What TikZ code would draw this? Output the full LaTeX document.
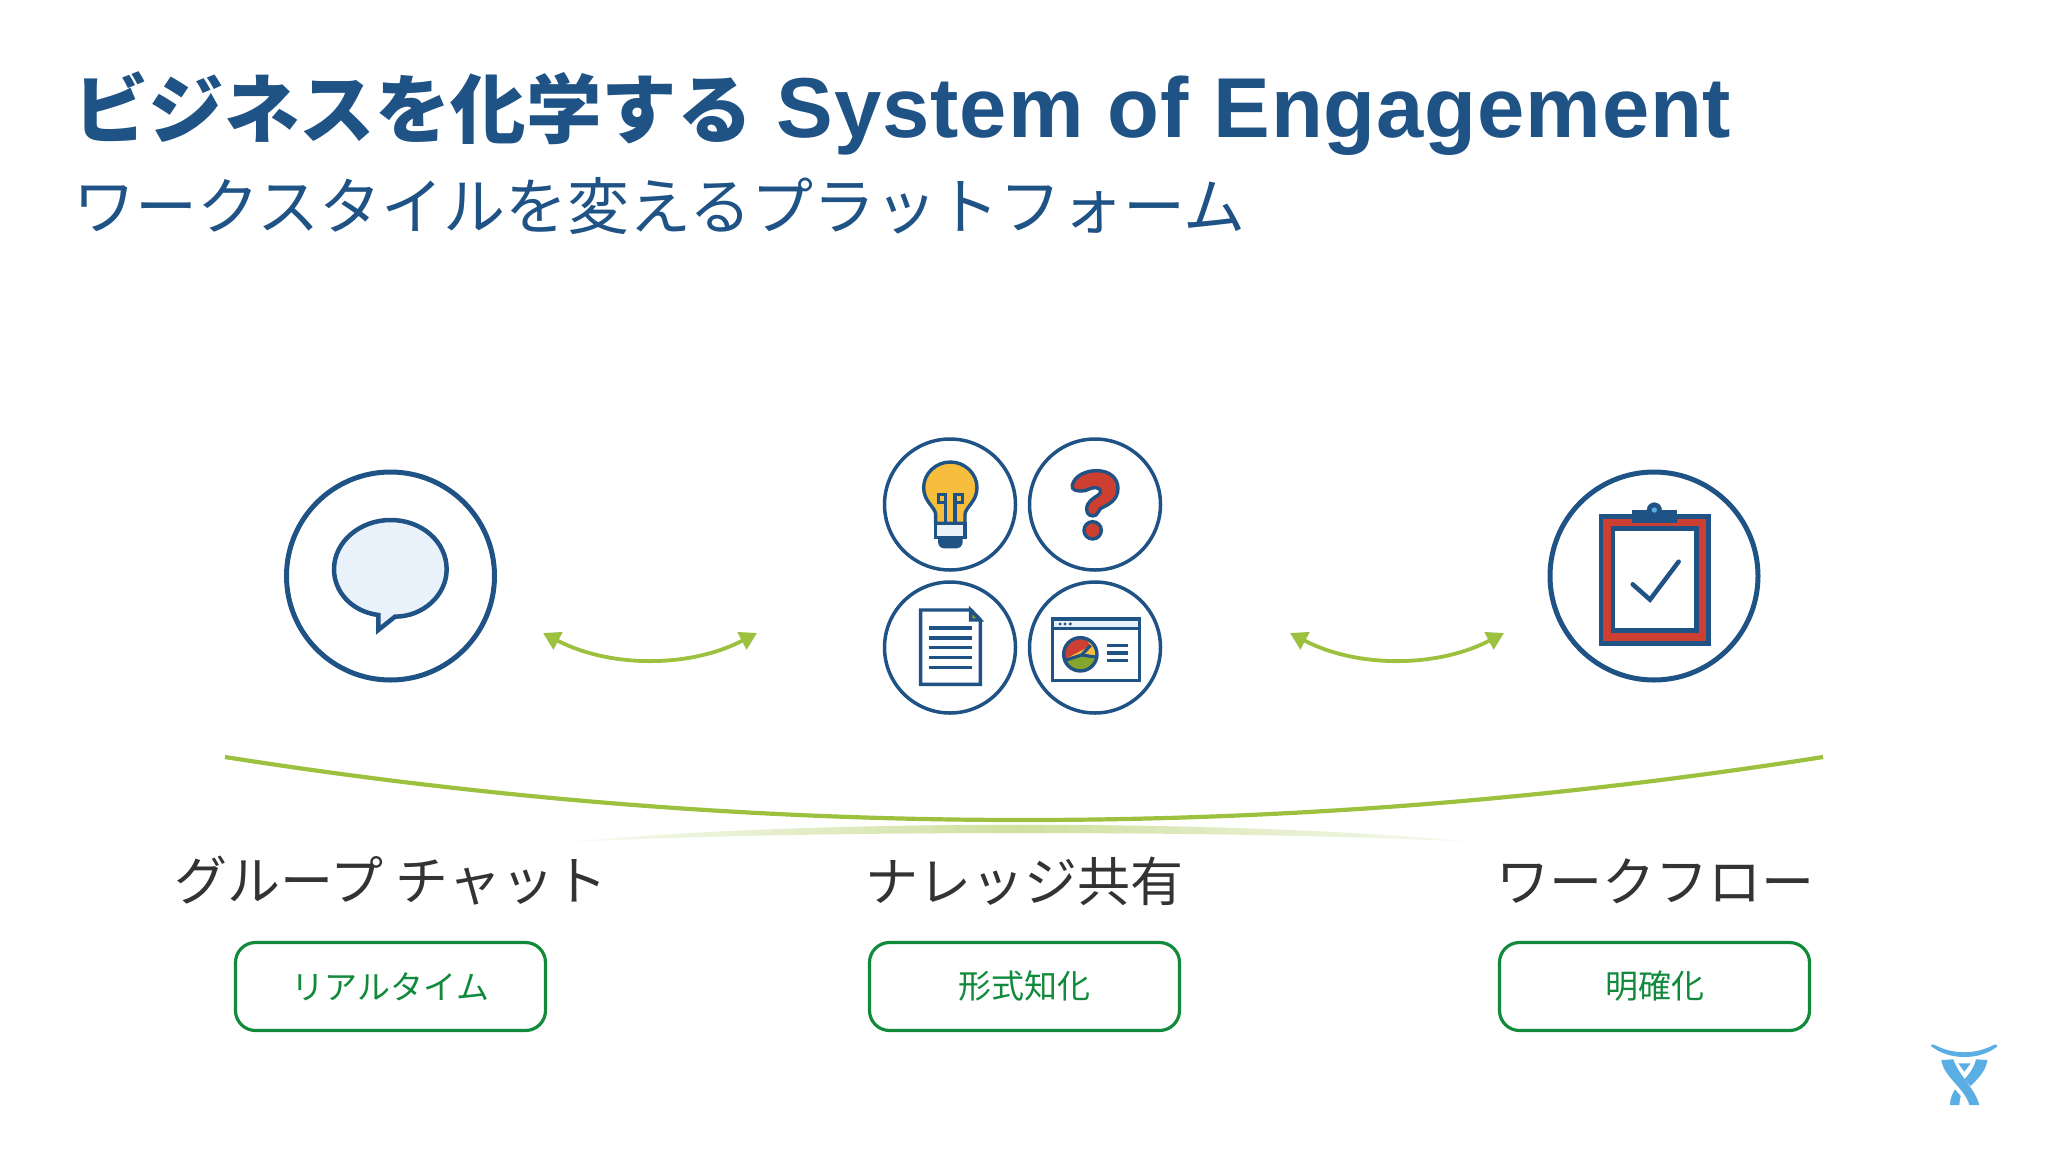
\documentclass[tikz,border=0pt]{standalone}
\usepackage{fontspec}
\setmainfont{Noto Sans CJK JP}
\newfontfamily\latintitle{Liberation Sans}[LetterSpace=1.0]
\usetikzlibrary{arrows.meta}
\definecolor{navy}{HTML}{1F5285}
\definecolor{leaf}{HTML}{9CC13F}
\definecolor{okgreen}{HTML}{118A3C}
\definecolor{inkgrey}{HTML}{333333}
\definecolor{brickred}{HTML}{CC3F31}
\definecolor{bulbyellow}{HTML}{F6BE3C}
\definecolor{palefill}{HTML}{E9F1FA}
\definecolor{oliveg}{HTML}{84A62E}
\definecolor{skylogo}{HTML}{5BAEE4}
\tikzset{
  x=1pt,y=-1pt,
  bigring/.style={circle,draw=navy,line width=5pt,minimum size=208pt,inner sep=0pt},
  smallring/.style={circle,draw=navy,line width=3.5pt,minimum size=131pt,inner sep=0pt},
  icon/.style={draw=navy,line width=3.4pt,line join=miter},
  zoomA/.style={shift={(860,420)},x=0.3333pt,y=-0.3333pt},
  zoomB/.style={shift={(1520,450)},x=0.3333pt,y=-0.3333pt},
  zoomC/.style={shift={(270,450)},x=0.3333pt,y=-0.3333pt},
  zoomD/.style={shift={(1900,1020)},x=0.3333pt,y=-0.3333pt},
  swing/.style={draw=leaf,line width=3.8pt,{Triangle[length=17pt,width=19pt]}-{Triangle[length=17pt,width=19pt]}},
  label/.style={text=inkgrey,font=\fontsize{53}{53}\selectfont,inner sep=0pt,anchor=center},
  tagbox/.style={draw=okgreen,line width=3.2pt,rounded corners=20pt,minimum width=310pt,minimum height=88pt,text=okgreen,font=\fontsize{33}{33}\selectfont,inner sep=0pt},
}
\begin{document}
\begin{tikzpicture}
\useasboundingbox (0,0) rectangle (2048,1152);
\fill[white] (0,0) rectangle (2048,1152);
% titles
\node[anchor=base west,inner sep=0pt,text=navy,font=\fontsize{75.5}{76}\selectfont\bfseries] (title) at (73,137) {ビジネスを化学する \hspace{7pt}{\latintitle\fontsize{85}{85}\selectfont System of Engagement}};
\node[anchor=west,inner sep=0pt,text=navy,font=\fontsize{62}{62}\selectfont] (subtitle) at (73,206) {ワークスタイルを変えるプラットフォーム};
% rings
\node[bigring] (chat) at (390.5,576) {};
\node[bigring] (flow) at (1654,576) {};
\node[smallring] (idea) at (950,504.5) {};
\node[smallring] (ask) at (1095,504.5) {};
\node[smallring] (doc) at (950,647.5) {};
\node[smallring] (win) at (1095,647.5) {};
% chat bubble
\begin{scope}[zoomC]
\draw[navy,fill=palefill,line width=4.5pt,line join=miter] (325,495) .. controls (245,485) and (192,425) .. (192,358) .. controls (192,275) and (270,210) .. (362,210) .. controls (455,210) and (530,275) .. (530,358) .. controls (530,435) and (460,500) .. (375,500) -- (325,540) -- cycle;
\end{scope}
% clipboard
\begin{scope}[zoomB]
\filldraw[brickred,draw=navy,line width=4.5pt] (243,199) rectangle (565,580);
\filldraw[white,draw=navy,line width=4.5pt] (279,236) rectangle (529,542);
\filldraw[fill=navy,draw=navy] (403,180) circle (22);
\fill[navy] (336,181) rectangle (472,220);
\fill[skylogo] (403,180) circle (8);
\draw[navy,line width=4.5pt,line cap=round,line join=miter] (338,403) -- (390,449) -- (476,335);
\end{scope}
% bulb
\begin{scope}[zoomA]
\draw[icon,fill=bulbyellow] (227,310) -- (227,283) .. controls (225,260) and (191,245) .. (191,203) .. controls (191,160) and (228,126) .. (271,126) .. controls (314,126) and (351,160) .. (351,203) .. controls (351,245) and (317,260) .. (315,283) -- (315,310) -- cycle;
\draw[icon,fill=palefill] (227,310) rectangle (315,352);
\fill[navy] (234,352) -- (308,352) -- (308,365) .. controls (308,378) and (298,385) .. (290,385) -- (252,385) .. controls (244,385) and (234,378) .. (234,365) -- cycle;
\draw[icon] (235,224) rectangle (257,248);
\draw[icon] (285,224) rectangle (307,248);
\draw[icon] (257,248) -- (257,310);
\draw[icon] (285,248) -- (285,310);
\end{scope}
% question mark
\begin{scope}[zoomA]
\draw[icon,fill=brickred,line join=round] (637,195) .. controls (645,165) and (680,152) .. (710,152) .. controls (750,152) and (774,175) .. (774,205) .. controls (774,240) and (745,255) .. (722,265) .. controls (715,270) and (716,280) .. (708,285) .. controls (695,292) and (680,285) .. (680,268) .. controls (680,245) and (700,235) .. (715,225) .. controls (725,218) and (725,205) .. (708,203) .. controls (692,202) and (685,210) .. (675,212) .. controls (655,215) and (632,212) .. (637,195) -- cycle;
\draw[icon,fill=brickred] (698,331) circle (26);
\end{scope}
% document
\begin{scope}[zoomA]
\draw[icon,fill=white] (182,570) -- (332,570) -- (361,600) -- (361,793) -- (182,793) -- cycle;
\draw[icon,fill=oliveg] (332,570) -- (332,600) -- (361,600) -- cycle;
\foreach \yy in {624,654,683,713,742} \draw[navy,line width=3.2pt] (207,\yy) -- (336,\yy);
\end{scope}
% browser chart
\begin{scope}[zoomA]
\draw[icon,fill=white] (578,597) rectangle (838,781);
\draw[icon,fill=palefill] (578,597) rectangle (838,626);
\foreach \xx in {600,615,631} \fill[navy] (\xx,612) circle (5);
\fill[bulbyellow] (661,703) circle (50);
\begin{scope}
\clip (661,703) circle (50);
\fill[brickred] (600,725) -- (690,678) -- (670,640) -- (600,640) -- cycle;
\fill[oliveg] (600,725) -- (665,705) -- (730,725) -- (730,770) -- (600,770) -- cycle;
\draw[navy,line width=3.2pt] (612,722) -- (665,705) -- (712,712);
\draw[navy,line width=3.2pt] (665,705) -- (692,676);
\end{scope}
\draw[icon] (661,703) circle (50);
\foreach \yy in {676,699,722} \draw[navy,line width=3.2pt] (740,\yy) -- (804,\yy);
\end{scope}
% double arrows
\coordinate (aL) at (543,633);
\coordinate (aR) at (757,633);
\coordinate (bL) at (1290,633);
\coordinate (bR) at (1504,633);
\draw[swing] (aL) .. controls (610,668) and (690,668) .. (aR);
\draw[swing] (bL) .. controls (1357,668) and (1437,668) .. (bR);
% reflection: a crescent built from colour steps
\begin{scope}
\clip (570,842) .. controls (805,819) and (1239,819) .. (1474,842) .. controls (1239,830) and (805,830) .. (570,842) -- cycle;
\foreach \k in {0,...,39} {
  \pgfmathsetmacro{\px}{570+22.6*\k}
  \pgfmathsetmacro{\tone}{8+42*(1-abs(\k-19.5)/19.5)}
  \fill[leaf!\tone!white] (\px,815) rectangle (\px+23.5,845);
}
\end{scope}
% big arc
\coordinate (arcL) at (225,757);
\coordinate (arcR) at (1823,757);
\draw[leaf,line width=4.2pt] (arcL) .. controls (758,841) and (1290,841) .. (arcR);
% labels
\node[label] (lchat) at (391,881) {グループ チャット};
\node[label] (lknow) at (1024,881) {ナレッジ共有};
\node[label] (lflow) at (1655,881) {ワークフロー};
\node[tagbox] (tchat) at (390.5,986.5) {リアルタイム};
\node[tagbox] (tknow) at (1024.5,986.5) {形式知化};
\node[tagbox] (tflow) at (1654.5,986.5) {明確化};
% logo
\begin{scope}[zoomD]
\fill[skylogo] (92,77) .. controls (96,71) and (99,73) .. (104,75) .. controls (160,104) and (225,104) .. (281,75) .. controls (286,73) and (292,71) .. (292,79) .. controls (240,122) and (145,122) .. (92,77) -- cycle;
\fill[skylogo] (175,130) -- (212,130) -- (193,155) -- cycle;
\fill[skylogo] (124,120) -- (160,118) .. controls (175,165) and (225,205) .. (238,255) -- (208,255) .. controls (195,205) and (130,170) .. (124,120) -- cycle;
\fill[skylogo] (262,120) -- (228,118) .. controls (222,145) and (205,165) .. (193,178) -- (212,198) .. controls (240,170) and (258,150) .. (262,120) -- cycle;
\fill[skylogo] (165,208) -- (182,228) .. controls (178,238) and (180,245) .. (178,255) -- (150,255) .. controls (150,235) and (158,220) .. (165,208) -- cycle;
\end{scope}
\end{tikzpicture}
\end{document}
